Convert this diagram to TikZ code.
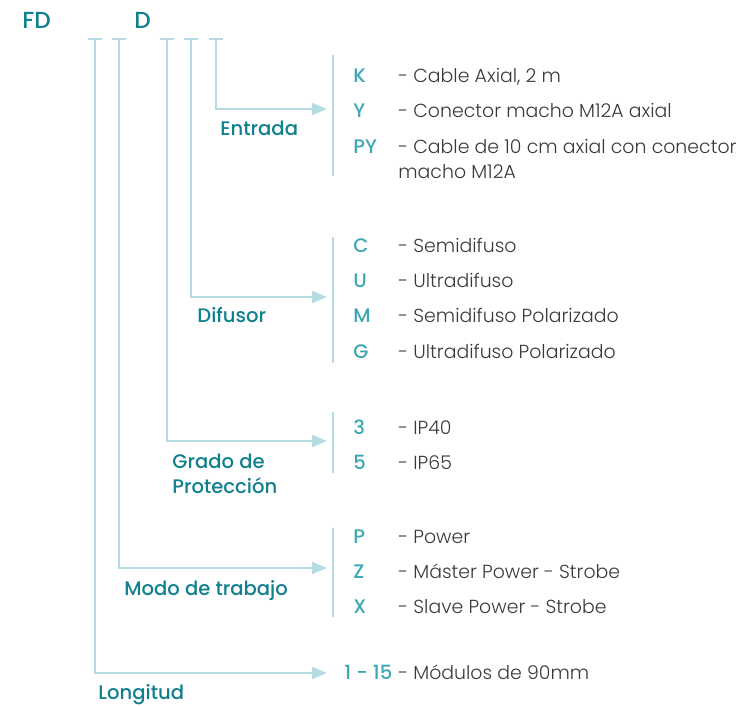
\documentclass[tikz,border=0pt]{standalone}
\usepackage{fontspec}
\setmainfont{Poppins}[BoldFont={Poppins Medium}]
\newfontfamily\lightfont{Poppins Light}
\usepackage{xcolor}
\usetikzlibrary{arrows.meta}

\definecolor{darkteal}{HTML}{10808E}
\definecolor{codeteal}{HTML}{3DA7B4}
\definecolor{wireblue}{HTML}{B4DCE2}
\definecolor{desctext}{HTML}{3A3A3A}

\begin{document}
\begin{tikzpicture}[x=0.5pt,y=-0.5pt,
    wire/.style={draw=wireblue,line width=0.75pt},
    arrowwire/.style={wire,-{Triangle[length=7.5pt,width=6pt,fill=wireblue]}},
    title/.style={anchor=base west,inner sep=0pt,text=darkteal,font=\bfseries\fontsize{11.6}{14}\selectfont},
    group/.style={anchor=base west,inner sep=0pt,text=darkteal,font=\bfseries\fontsize{9.8}{12.6}\selectfont,align=left},
    code/.style={anchor=base west,inner sep=0pt,text=codeteal,font=\bfseries\fontsize{9.8}{12}\selectfont},
    desc/.style={anchor=base west,inner sep=0pt,text=desctext,font=\lightfont\fontsize{9.45}{12.5}\selectfont,align=left}]

    \useasboundingbox (0,0) rectangle (736,706);

    % header
    \node[title] (fd) at (22,29) {FD};
    \node[title] (d) at (134,29) {D};

    % ticks
    \coordinate (tl) at (95,39);
    \coordinate (tm) at (119,39);
    \coordinate (tg) at (167,39);
    \coordinate (tf) at (191,39);
    \coordinate (te) at (216,39);
    \foreach \t in {tl,tm,tg,tf,te}
        \draw[wire] ([xshift=-3.6pt]\t) -- ([xshift=3.6pt]\t);

    % arrow ends
    \coordinate (ee) at (327,109);
    \coordinate (ef) at (327,297);
    \coordinate (eg) at (327,441);
    \coordinate (em) at (327,568);
    \coordinate (el) at (327,673);

    \draw[arrowwire] (te) |- (ee);
    \draw[arrowwire] (tf) |- (ef);
    \draw[arrowwire] (tg) |- (eg);
    \draw[arrowwire] (tm) |- (em);
    \draw[arrowwire] (tl) |- (el);

    % brackets
    \draw[wire] (333,55) -- (333,176);
    \draw[wire] (333,237) -- (333,363);
    \draw[wire] (333,412) -- (333,473);
    \draw[wire] (333,528) -- (333,617);

    % group labels
    \node[group] (entrada) at (220,136) {Entrada};
    \node[group] (difusor) at (197,323) {Difusor};
    \node[group] (grado) at (172,494) {Grado de\\Protección};
    \node[group] (modo) at (124,596) {Modo de trabajo};
    \node[group] (longitud) at (98,700) {Longitud};

    % Entrada
    \node[code] (k) at (353,83) {K};
    \node[desc] (kd) at (398,83) {- Cable Axial, 2 m};
    \node[code] (y) at (353,118) {Y};
    \node[desc] (yd) at (398,118) {- Conector macho M12A axial};
    \node[code] (py) at (353,154) {PY};
    \node[desc] (pyd) at (398,179) {- Cable de 10 cm axial con conector\\macho M12A};

    % Difusor
    \node[code] (c) at (353,253) {C};
    \node[desc] (cd) at (398,253) {- Semidifuso};
    \node[code] (u) at (353,288) {U};
    \node[desc] (ud) at (398,288) {- Ultradifuso};
    \node[code] (m) at (353,323) {M};
    \node[desc] (md) at (398,323) {- Semidifuso Polarizado};
    \node[code] (g) at (353,359) {G};
    \node[desc] (gd) at (398,359) {- Ultradifuso Polarizado};

    % Grado de proteccion
    \node[code] (ip3) at (353,435) {3};
    \node[desc] (ip3d) at (398,435) {- IP40};
    \node[code] (ip5) at (353,470) {5};
    \node[desc] (ip5d) at (398,470) {- IP65};

    % Modo de trabajo
    \node[code] (p) at (353,544) {P};
    \node[desc] (pd) at (398,544) {- Power};
    \node[code] (z) at (353,579) {Z};
    \node[desc] (zd) at (398,579) {- Máster Power - Strobe};
    \node[code] (x) at (353,614) {X};
    \node[desc] (xd) at (398,614) {- Slave Power - Strobe};

    % Longitud
    \node[code] (len) at (344,680) {1 - 15};
    \node[desc] (lend) at (398,680) {- Módulos de 90mm};

\end{tikzpicture}
\end{document}
